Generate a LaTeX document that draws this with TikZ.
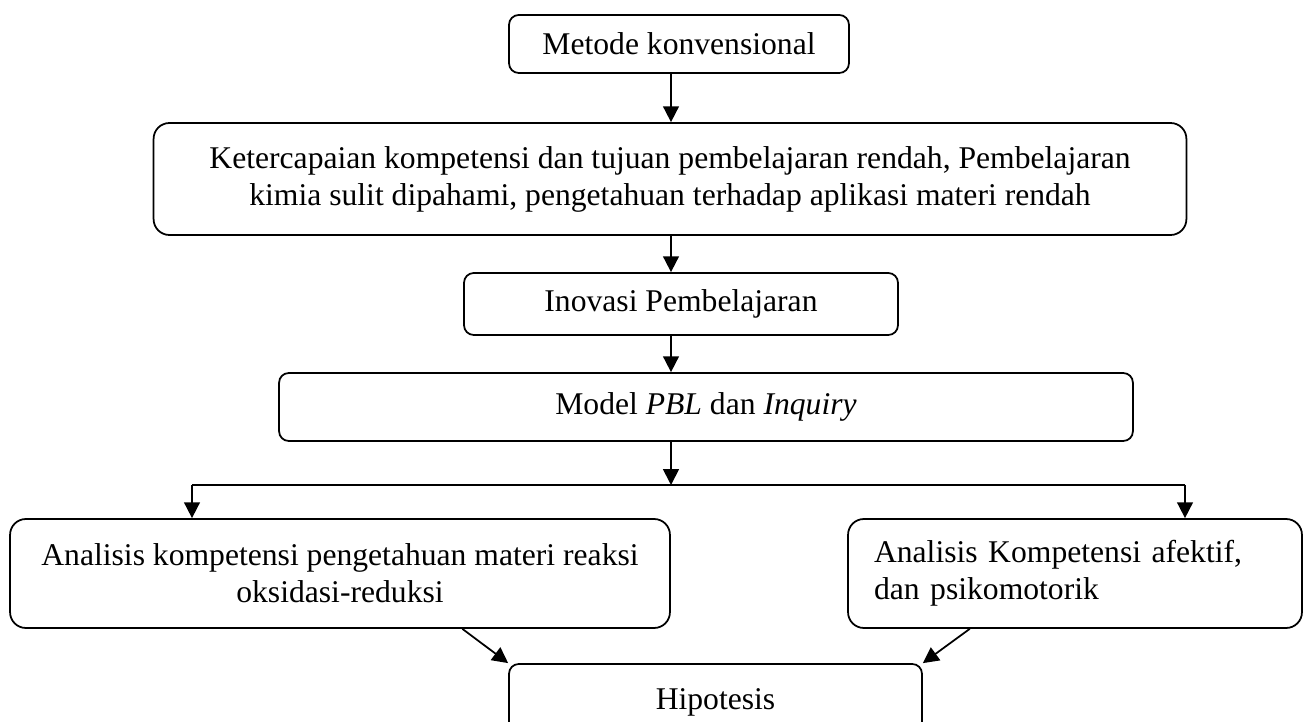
\documentclass[tikz,border=0pt]{standalone}
\usepackage{fontspec}
\setmainfont{Liberation Serif}
\usepackage{tikz}
\usetikzlibrary{arrows.meta}
\usetikzlibrary{calc}
\newcommand\mybox[5][]{%
  \node[mybox,#1,minimum width=#2cm,minimum height=#3cm] (#4) {#5};
}

\begin{document}
\begin{tikzpicture}[
x=0.02cm, y=-0.02cm,
font=\fontsize{18}{21}\selectfont,
mybox/.style={
  draw,
  line width=1pt,
  rounded corners=5.5pt,
  inner sep=0pt,
  align=center},
myarrow/.style={-{Triangle[length=9pt,width=9pt]}, line width=1pt}
]
\useasboundingbox (0,0) rectangle (1305,722);
\mybox[at={(679,44)}]{6.8}{1.16}{metode}{Metode konvensional}
\mybox[at={(670,179)},rounded corners=9pt]{20.66}{2.24}{ketercapaian}{Ketercapaian kompetensi dan tujuan pembelajaran rendah, Pembelajaran\\kimia sulit dipahami, pengetahuan terhadap aplikasi materi rendah}
\mybox[at={(681,304)}]{8.68}{1.24}{inovasi}{Inovasi Pembelajaran}
\mybox[at={(706,407)}]{17.08}{1.36}{model}{Model \textit{PBL} dan \textit{Inquiry}}
\mybox[at={(340,573.5)},rounded corners=9pt]{13.2}{2.18}{pengetahuan}{Analisis kompetensi pengetahuan materi reaksi\\oksidasi-reduksi}
\mybox[at={(1075,573.5)},rounded corners=9pt,align=left,text width=8.04cm,inner xsep=0.52cm]{9.08}{2.18}{afektif}{Analisis Kompetensi afektif,\\dan psikomotorik}
\mybox[at={(715.5,702)}]{8.26}{1.52}{hipotesis}{Hipotesis}
% connectors
\coordinate (axis) at (671,0);
\coordinate (splitL) at (192,485);
\coordinate (split) at (671,485);
\coordinate (splitR) at (1185,485);
\draw [myarrow] (metode.south -| axis) -- (ketercapaian.north -| axis);
\draw [myarrow] (ketercapaian.south -| axis) -- (inovasi.north -| axis);
\draw [myarrow] (inovasi.south -| axis) -- (model.north -| axis);
\draw [myarrow] (model.south -| axis) -- (split);
\draw [line width=1pt] (splitL) -- (splitR);
\draw [myarrow] (splitL) -- (splitL |- pengetahuan.north);
\draw [myarrow] (splitR) -- (splitR |- afektif.north);
\draw [myarrow] ($(pengetahuan.south west)!0.685!(pengetahuan.south east)$) -- (hipotesis.north west);
\draw [myarrow] ($(afektif.south west)!0.269!(afektif.south east)$) -- (hipotesis.north east);
\end{tikzpicture}
\end{document}
